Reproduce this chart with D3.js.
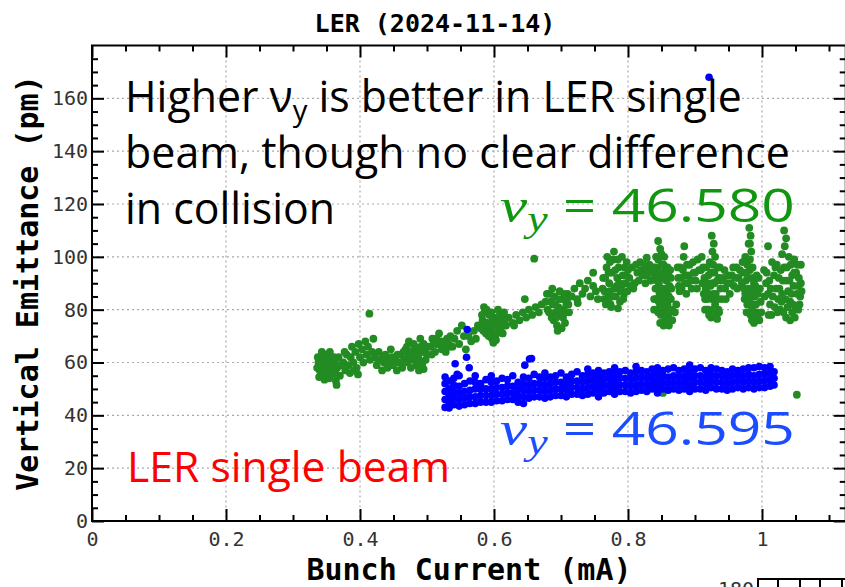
<!DOCTYPE html>
<html>
<head>
<meta charset="utf-8">
<script src="https://cdn.jsdelivr.net/npm/d3@7"></script>
<style>
  body { margin: 0; background: #fff; }
</style>
</head>
<body>
<div class="chart"></div>
<script>
// ---- data (bunch current mA, emittance pm) ----
var xTicks = [0, 0.2, 0.4, 0.6, 0.8, 1];
var xTickLabels = ["0", "0.2", "0.4", "0.6", "0.8", "1"];
var yTicks = [0, 20, 40, 60, 80, 100, 120, 140, 160];

// nu_y = 46.580 (green)
var greenPoints = [
  [0.338,60],[0.340,57],[0.342,62],[0.344,55],[0.346,59],[0.348,63],[0.350,56],[0.352,60],[0.354,54],
  [0.356,58],[0.358,62],[0.360,56],[0.362,60],[0.364,53],[0.366,58],[0.368,62],[0.370,55],[0.343,64],
  [0.355,64],[0.365,51.5],[0.372,59],[0.336,58],[0.339,54.5],[0.347,53.5],[0.357,55.5],
  [0.337,62],[0.341,60],[0.345,57],[0.349,60],[0.351,58],[0.353,62],[0.359,59],[0.361,62],[0.363,57],
  [0.367,55],[0.369,59],[0.345,62],
  [0.375,60],[0.378,57],[0.380,63],[0.383,59],[0.386,62],[0.388,66],[0.390,60],[0.393,64],[0.395,58],
  [0.398,67],[0.400,62],[0.403,65],[0.405,60],[0.408,68],[0.410,63],[0.412,66],[0.415,61],[0.418,64],
  [0.420,69],[0.385,56],[0.397,55.5],[0.414,78.5],[0.377,64],[0.391,57],
  [0.422,62],[0.425,59],[0.428,64],[0.430,61],[0.433,57],[0.436,60],[0.438,63],[0.441,58],[0.444,61],
  [0.446,65],[0.449,59],[0.452,62],[0.455,57],[0.457,60],[0.460,63],[0.463,58],[0.466,61],[0.468,65],
  [0.471,60],[0.474,63],[0.476,58],[0.479,61],[0.482,66],[0.484,59],[0.487,62],[0.490,69],
  [0.427,61],[0.434,62],[0.440,60],[0.447,62],[0.451,60],[0.456,63],[0.461,60],[0.465,64],[0.472,62],
  [0.478,63],[0.485,61],[0.491,66],[0.497,64],[0.502,66],[0.507,63],[0.510,67],[0.514,69],[0.520,68],
  [0.524,66],[0.530,69],[0.534,66],
  [0.470,66],[0.473,68],[0.477,64],[0.480,67],[0.483,63],[0.486,65],[0.489,60],[0.492,64],[0.495,67],
  [0.498,61],[0.500,63],[0.495,57.5],[0.488,57],[0.493,59.5],
  [0.505,66],[0.508,69],[0.512,64],[0.515,67],[0.518,71],[0.522,65],[0.525,68],[0.528,64],[0.532,67],
  [0.535,70],[0.538,66],[0.541,69],[0.545,72],[0.548,67],[0.552,74],[0.555,70],[0.558,65],
  [0.562,70],[0.566,68],[0.570,72],[0.573,69],[0.576,74],
  [0.580,73],[0.583,76],[0.586,79],[0.588,71],[0.590,75],[0.593,78],[0.595,72],[0.597,69],[0.600,74],
  [0.602,77],[0.604,71],[0.606,80],[0.608,75],[0.610,72],[0.612,78],[0.614,74],[0.616,76],[0.599,67.5],
  [0.592,70],[0.603,68.5],[0.585,81],[0.591,73],[0.598,76.5],[0.607,73],
  [0.582,78],[0.584,72],[0.587,75],[0.589,80],[0.594,74],[0.596,79],[0.601,71],[0.605,76],[0.609,78],
  [0.611,75],[0.613,71],[0.615,79],[0.618,74],
  [0.622,77],[0.628,75],[0.633,78],[0.638,76],[0.643,79],[0.648,77],[0.652,80],[0.657,78],[0.662,81],
  [0.667,79],[0.671,82],[0.646,84],[0.630,74],[0.660,99.3],
  [0.677,83],[0.680,80],[0.683,86],[0.686,77],[0.688,82],[0.690,85],[0.692,79],[0.694,74],[0.696,81],
  [0.698,87],[0.700,78],[0.702,84],[0.704,80],[0.706,75],[0.708,82],[0.710,86],[0.712,79],[0.695,72],
  [0.701,73],[0.689,76],[0.697,84],
  [0.679,86],[0.682,79],[0.685,83],[0.687,88],[0.691,82],[0.693,77],[0.699,80],[0.703,77],[0.705,86],
  [0.707,79],[0.709,84],[0.711,82],
  [0.716,85],[0.720,88],[0.724,84],[0.728,90],[0.732,86],[0.736,88],[0.740,91],[0.744,85],[0.748,89],
  [0.752,87],[0.755,84],[0.725,82.5],[0.748,94],
  [0.762,88],[0.764,84],[0.766,92],[0.768,96],[0.770,86],[0.772,90],[0.774,82],[0.776,94],[0.778,99],
  [0.780,88],[0.782,85],[0.784,92],[0.786,96],[0.788,83],[0.790,89],[0.792,93],[0.794,86],[0.796,90],
  [0.798,98],[0.779,102],[0.775,81],[0.785,80.5],[0.769,100],[0.791,100],[0.773,87],[0.781,95],[0.789,87],
  [0.763,92],[0.765,87],[0.767,82],[0.771,94],[0.773,98],[0.777,85],[0.783,89],[0.785,99],[0.787,90],
  [0.793,84],[0.795,96],[0.797,93],[0.799,87],[0.771,84],
  [0.802,92],[0.806,96],[0.810,90],[0.814,94],[0.818,98],[0.808,88],
  [0.800,95],[0.804,89],[0.812,97],[0.816,91],[0.820,95],[0.828,93],[0.832,97],[0.836,94],
  [0.822,93],[0.826,90],[0.830,95],[0.834,91],[0.824,97],[0.828,99.7],
  [0.845,106],[0.848,103],[0.842,100],[0.850,101],
  [0.838,96],[0.840,92],[0.841,88],[0.842,84],[0.843,80],[0.844,95],[0.846,90],[0.847,86],[0.848,82],
  [0.849,78],[0.850,97],[0.851,93],[0.852,88],[0.853,84],[0.854,80],[0.855,76],[0.856,95],[0.857,91],
  [0.858,86],[0.859,82],[0.860,78],[0.861,74],[0.862,89],[0.864,84],[0.866,80],[0.863,95],[0.853,74],
  [0.848,75],[0.845,79],[0.851,81],[0.857,88],[0.860,93],[0.844,88],
  [0.839,84],[0.839,80],[0.841,96],[0.843,91],[0.845,99],[0.846,83],[0.847,94],[0.849,88],[0.850,85],
  [0.852,92],[0.853,97],[0.855,86],[0.856,82],[0.858,78],[0.859,96],[0.861,85],[0.862,80],[0.864,92],
  [0.865,88],[0.866,76],[0.854,100],[0.857,75],
  [0.872,82],[0.870,79],
  [0.875,92],[0.878,96],[0.880,88],[0.883,100],[0.886,93],[0.889,90],[0.892,97],[0.895,88],[0.898,94],
  [0.901,91],[0.904,99],[0.884,104],[0.877,87],
  [0.874,96],[0.876,89],[0.879,92],[0.882,95],[0.885,90],[0.888,97],[0.891,93],[0.894,91],[0.897,98],
  [0.900,94],[0.903,88],[0.906,95],[0.887,86],
  [0.925,108],[0.928,105],[0.926,102],[0.910,100],[0.912,96],[0.914,92],[0.916,88],[0.918,84],[0.920,80],
  [0.922,98],[0.924,94],[0.926,90],[0.928,86],[0.930,82],[0.932,78],[0.934,96],[0.936,92],[0.938,88],
  [0.940,84],[0.915,80],[0.924,77],[0.930,100],[0.935,80],[0.919,90],[0.929,94],[0.921,86],
  [0.909,95],[0.911,90],[0.913,86],[0.915,84],[0.917,96],[0.918,80],[0.920,93],[0.921,78],[0.923,89],
  [0.925,84],[0.927,80],[0.927,97],[0.929,90],[0.931,86],[0.933,91],[0.934,84],[0.936,79],[0.937,96],
  [0.939,91],[0.933,76.5],
  [0.944,95],[0.948,90],[0.952,86],[0.955,93],[0.958,89],[0.962,96],[0.965,92],[0.946,84],
  [0.942,92],[0.945,88],[0.950,93],[0.953,90],[0.957,96],[0.960,92],[0.963,88],[0.967,95],
  [0.981,111],[0.983,108],[0.980,105],[0.984,102],[0.975,100],[0.978,97],[0.972,94],[0.976,91],[0.980,88],
  [0.984,85],[0.988,82],[0.992,79],[0.996,76],[0.982,95],[0.986,92],[0.990,89],[0.994,86],[0.998,83],
  [0.975,86],[0.978,82],[0.983,78],[0.988,75],[0.970,90],[0.995,92],[0.979,92],[0.987,87],
  [0.971,98],[0.973,88],[0.974,84],[0.977,79],[0.977,94],[0.979,86],[0.981,83],[0.982,99],[0.985,80],
  [0.986,96],[0.988,90],[0.989,85],[0.991,82],[0.992,93],[0.993,77],[0.997,88],[0.999,79],[0.985,76],
  [0.982,105],
  [1.009,104],
  [1.033,110],[1.036,107],[1.034,104],[1.003,95],[1.006,90],[1.009,86],[1.012,82],[1.015,98],[1.018,93],
  [1.021,88],[1.024,84],[1.027,80],[1.030,101],[1.033,96],[1.036,91],[1.039,87],[1.042,83],[1.045,79],
  [1.048,99],[1.051,94],[1.054,89],[1.057,85],[1.042,76],[1.036,77],[1.050,81],[1.058,97],[1.010,78],
  [1.025,92],[1.045,93],[1.030,86],[1.040,100],[1.054,80],[1.020,96],
  [1.004,85],[1.007,94],[1.011,91],[1.013,88],[1.014,78],[1.016,85],[1.019,81],[1.022,97],[1.023,79],
  [1.026,88],[1.028,95],[1.029,83],[1.031,91],[1.032,79],[1.035,84],[1.037,96],[1.038,81],[1.041,91],
  [1.043,97],[1.044,86],[1.046,82],[1.047,89],[1.049,77],[1.052,86],[1.053,97],[1.055,92],[1.056,82],
  [1.058,90],[1.059,87],[1.048,94],
  [0.852,48.5],[1.052,47.8]
];

// nu_y = 46.595 (blue): each column is [current, list of emittances]
var blueColumns = [
  [0.527,[43,46,49,52,54.5]],[0.533,[42.8,45,47.5,50,53]],[0.540,[44,46.5,49,51.5,54]],
  [0.548,[43.5,46,48.5,51,55]],[0.556,[44,46.5,49,52]],[0.564,[44.5,47,49.5,53]],
  [0.572,[44.5,47,50,52.5,55]],[0.580,[45,47.5,50,52]],[0.588,[45,47.5,50,53.5]],
  [0.596,[45,47.5,50,52.5,55]],[0.604,[45.5,48,50.5,53]],[0.612,[45.5,48,50.5,54]],
  [0.620,[46,48.5,51,53.5]],[0.628,[46,48.5,51,55]],[0.636,[45,47.5,50,52.5]],
  [0.644,[44.5,47,49.5,52,54.5]],[0.652,[46.5,49,51.5,54]],[0.660,[47,49.5,52,55.5]],
  [0.668,[47,49.5,52,54.5]],[0.676,[46.5,49,51.5,54,56]],[0.684,[47,49.5,52,54.5]],
  [0.692,[47.5,50,52.5,55]],[0.700,[47.5,50,52.5,56]],[0.708,[47,49.5,52,54.5]],
  [0.716,[48,50.5,53,55.5]],[0.724,[48,50.5,53,56.5]],[0.732,[47.5,50,52.5,55]],
  [0.740,[48,50.5,53,55.5,57.5]],[0.748,[48.5,51,53.5,56]],[0.756,[47,49.5,52,54.5,57]],
  [0.764,[48.5,51,53.5,56]],[0.772,[49,51.5,54,56.5]],[0.780,[48,50.5,53,55.5,58]],
  [0.788,[49,51.5,54,56.5]],[0.796,[49,51.5,54,57]],[0.804,[48.5,51,53.5,56]],
  [0.812,[49,51.5,54,56.5,58.5]],[0.820,[49.5,52,54.5,57]],[0.828,[49,51.5,54,56.5]],
  [0.836,[50,52.5,55,57.5]],[0.844,[48.5,51,53.5,56,58]],[0.852,[50,52.5,55,57]],
  [0.860,[49.5,52,54.5,57.5]],[0.868,[50,52.5,55,58]],[0.876,[49.5,52,54.5,57]],
  [0.884,[50,52.5,55,57.5]],[0.892,[49,51.5,54,56.5,59]],[0.900,[50,52.5,55,57.5]],
  [0.908,[50,52.5,55,58]],[0.916,[49.5,52,54.5,57]],[0.924,[50.5,53,55.5,58]],
  [0.932,[50,52.5,55,57.5]],[0.940,[50,52.5,55,57]],[0.948,[49.5,52,54.5,56.5]],
  [0.956,[50,52.5,55,57.5]],[0.964,[50.5,53,55.5,57]],[0.972,[50,52.5,55,57.5]],
  [0.980,[50.5,53,55.5,58]],[0.988,[50,52.5,55,58]],[0.996,[50.5,53,55.5,58.5]],
  [1.004,[50.5,53,55.5,58]],[1.012,[51,53.5,56,58.5]],[1.018,[51.5,54,56.5]]
];
var blueOutliers = [
  [0.921,168],[0.560,72.5],[0.542,59.5],[0.559,62],[0.563,58],[0.545,55.5],
  [0.646,59],[0.653,61.3],[0.656,61.5]
];

// ---- layout ----
var svgWidth = 845;
var svgHeight = 587;
var margin = { top: 45.5, right: 0, bottom: 66, left: 92 };
var width = 753.75;
var height = svgHeight - margin.top - margin.bottom;

var svg = d3.select(".chart")
  .append("svg")
  .attr("width", svgWidth)
  .attr("height", svgHeight)
  .style("display", "block");

var chartGroup = svg.append("g")
  .attr("transform", `translate(${margin.left}, ${margin.top})`);

var xScale = d3.scaleLinear().domain([0, 1.125]).range([0, width]);
var yScale = d3.scaleLinear().domain([0, 180]).range([height, 0]);

var mono = "'DejaVu Sans Mono', monospace";
var sans = "'Open Sans', 'Noto Sans', sans-serif";
var serif = "'Liberation Serif', 'DejaVu Serif', serif";

// grid lines (dotted)
chartGroup.append("g").selectAll("line")
  .data(xTicks.filter(d => d > 0))
  .enter().append("line")
  .attr("x1", d => xScale(d)).attr("x2", d => xScale(d))
  .attr("y1", 0).attr("y2", height)
  .attr("stroke", "#aaa").attr("stroke-width", 1.2)
  .attr("stroke-dasharray", "2,3");

chartGroup.append("g").selectAll("line")
  .data(yTicks.filter(d => d > 0))
  .enter().append("line")
  .attr("y1", d => yScale(d)).attr("y2", d => yScale(d))
  .attr("x1", 0).attr("x2", width)
  .attr("stroke", "#aaa").attr("stroke-width", 1.2)
  .attr("stroke-dasharray", "2,3");

// scatter points
var bluePoints = [];
blueColumns.forEach(function(c) {
  c[1].forEach(function(v) { bluePoints.push([c[0], v]); });
});
blueOutliers.forEach(function(p) { bluePoints.push(p); });

chartGroup.append("g").selectAll("circle")
  .data(greenPoints)
  .enter().append("circle")
  .attr("cx", d => xScale(d[0]))
  .attr("cy", d => yScale(d[1]))
  .attr("r", 3.9)
  .attr("fill", "#228b22");

chartGroup.append("g").selectAll("circle")
  .data(bluePoints)
  .enter().append("circle")
  .attr("cx", d => xScale(d[0]))
  .attr("cy", d => yScale(d[1]))
  .attr("r", 3.8)
  .attr("fill", "#0000ff");

// axes: major + minor ticks pointing inward on all four sides
var xMinor = d3.range(0, 1.126, 0.05).filter(d => Math.abs(d / 0.2 - Math.round(d / 0.2)) > 1e-6);
var yMinor = d3.range(0, 181, 5).filter(d => d % 20 !== 0);

function styleAxis(g) {
  g.select(".domain").remove();
  g.selectAll("line").attr("stroke", "#000").attr("stroke-width", 2);
  g.selectAll("text")
    .attr("font-family", mono)
    .attr("font-size", 20)
    .attr("fill", "#333");
}

chartGroup.append("g")
  .attr("transform", `translate(0, ${height})`)
  .call(d3.axisBottom(xScale).tickValues(xTicks)
    .tickFormat((d, i) => xTickLabels[i]).tickSize(-12).tickPadding(11))
  .call(styleAxis);
chartGroup.append("g")
  .attr("transform", `translate(0, ${height})`)
  .call(d3.axisBottom(xScale).tickValues(xMinor).tickFormat("").tickSize(-6))
  .call(styleAxis);
chartGroup.append("g")
  .call(d3.axisTop(xScale).tickValues(xTicks).tickFormat("").tickSize(-12))
  .call(styleAxis);
chartGroup.append("g")
  .call(d3.axisTop(xScale).tickValues(xMinor).tickFormat("").tickSize(-6))
  .call(styleAxis);

chartGroup.append("g")
  .call(d3.axisLeft(yScale).tickValues(yTicks).tickSize(-12).tickPadding(4))
  .call(styleAxis);
chartGroup.append("g")
  .call(d3.axisLeft(yScale).tickValues(yMinor).tickFormat("").tickSize(-6))
  .call(styleAxis);
chartGroup.append("g")
  .attr("transform", `translate(${width}, 0)`)
  .call(d3.axisRight(yScale).tickValues(yTicks).tickFormat("").tickSize(-12))
  .call(styleAxis);
chartGroup.append("g")
  .attr("transform", `translate(${width}, 0)`)
  .call(d3.axisRight(yScale).tickValues(yMinor).tickFormat("").tickSize(-6))
  .call(styleAxis);

// frame
chartGroup.append("rect")
  .attr("width", width).attr("height", height)
  .attr("fill", "none").attr("stroke", "#000").attr("stroke-width", 2);

// titles
svg.append("text")
  .attr("x", 435).attr("y", 32)
  .attr("text-anchor", "middle")
  .attr("font-family", mono).attr("font-weight", "bold").attr("font-size", 25)
  .text("LER (2024-11-14)");

svg.append("text")
  .attr("x", 469).attr("y", 580)
  .attr("text-anchor", "middle")
  .attr("font-family", mono).attr("font-weight", "bold").attr("font-size", 30)
  .text("Bunch Current (mA)");

svg.append("text")
  .attr("transform", "translate(38, 283) rotate(-90)")
  .attr("text-anchor", "middle")
  .attr("font-family", mono).attr("font-weight", "bold").attr("font-size", 30)
  .text("Vertical Emittance (pm)");

// squeeze a text horizontally so it spans the wanted width
function fitText(t, x, y, w) {
  var len = t.node().getComputedTextLength();
  t.attr("transform", `translate(${x}, ${y}) scale(${w / len}, 1)`);
}

function annot(x, y, w, size, color, parts) {
  var t = svg.append("text")
    .attr("font-family", sans).attr("font-size", size).attr("fill", color);
  parts.forEach(function(p) {
    var s = t.append("tspan").text(p.text);
    if (p.font) s.attr("font-family", p.font);
    if (p.style) s.attr("font-style", p.style);
    if (p.size) s.attr("font-size", p.size);
    if (p.dy) s.attr("dy", p.dy);
  });
  fitText(t, x, y, w);
  return t;
}

annot(125, 112, 617, 44, "#000", [
  { text: "Higher ν" }, { text: "y", size: 30, dy: 9 }, { text: " is better in LER single", dy: -9 }
]);
annot(125, 168, 665, 44, "#000", [{ text: "beam, though no clear difference" }]);
annot(125, 224, 210, 44, "#000", [{ text: "in collision" }]);

annot(500, 222, 295, 46, "#11960f", [
  { text: "ν", font: serif, style: "italic", size: 48 },
  { text: "y", font: serif, style: "italic", size: 36, dy: 9 },
  { text: " = 46.580", dy: -9 }
]);
annot(500, 445, 295, 46, "#1a4dff", [
  { text: "ν", font: serif, style: "italic", size: 48 },
  { text: "y", font: serif, style: "italic", size: 36, dy: 9 },
  { text: " = 46.595", dy: -9 }
]);
annot(127, 482, 323, 42, "#ff0000", [{ text: "LER single beam" }]);

// fragment of the next panel, cut by the image edge
var frag = svg.append("g").attr("transform", "translate(758, 579)");
frag.append("rect").attr("width", 100).attr("height", 40)
  .attr("fill", "none").attr("stroke", "#000").attr("stroke-width", 2);
frag.selectAll("line").data([20, 42, 62, 84]).enter().append("line")
  .attr("x1", d => d).attr("x2", d => d).attr("y1", 0).attr("y2", 12)
  .attr("stroke", "#000").attr("stroke-width", 2);
frag.append("text").attr("x", -4).attr("y", 17).attr("text-anchor", "end")
  .attr("font-family", mono).attr("font-size", 20).attr("fill", "#333").text("180");
</script>
</body>
</html>
